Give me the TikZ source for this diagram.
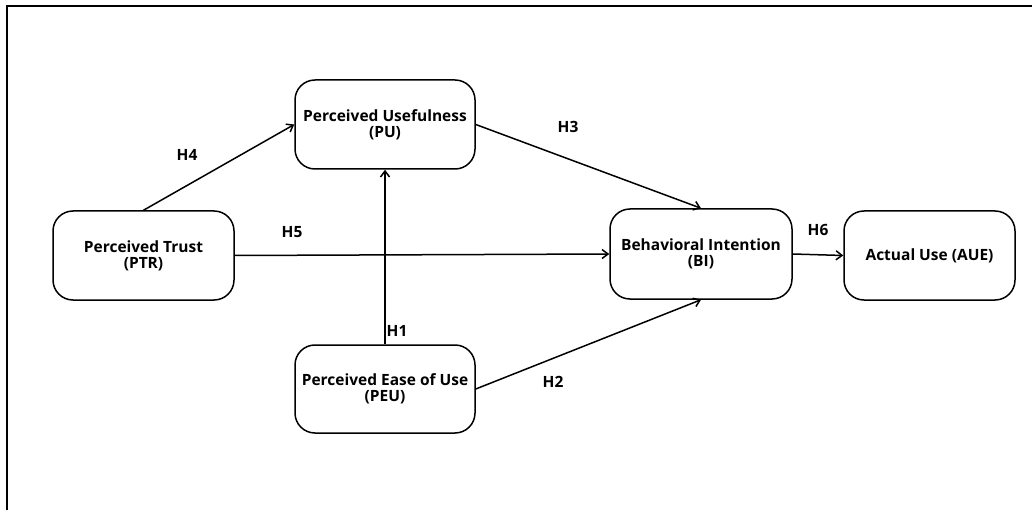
\documentclass[tikz,border=0pt]{standalone}
\usepackage{fontspec}
\setmainfont{Open Sans}
\usetikzlibrary{arrows.meta}
\begin{document}
\begin{tikzpicture}[x=1pt,y=-1pt,
  box/.style={draw=black, line width=1.5pt, rounded corners=20pt, minimum width=180pt, minimum height=89pt, align=center, inner sep=0pt, font=\fontsize{15.5}{16}\selectfont\bfseries},
  conn/.style={line width=1.5pt, -{Straight Barb[length=6pt,width=9pt,line width=1.5pt]}},
  hlab/.style={font=\fontsize{15.5}{16}\selectfont\bfseries, inner sep=0pt}]
\useasboundingbox (0,0) rectangle (1032,510);
\draw[line width=2pt] (7,515) -- (7,6) -- (1040,6);
\node[box] (PU) at (385,124.5) {Perceived Usefulness\\(PU)};
\node[box, minimum width=181pt] (PTR) at (143.5,255.5) {Perceived Trust\\(PTR)};
\node[box, minimum width=182pt, minimum height=90pt] (BI) at (701,254) {Behavioral Intention\\(BI)};
\node[box, minimum width=171pt] (AUE) at (929.5,255.5) {Actual Use (AUE)};
\node[box, minimum height=88pt] (PEU) at (385,389) {Perceived Ease of Use\\(PEU)};
\draw[conn] (PTR.north) -- (PU.west);
\draw[conn] (PU.east) -- (BI.north);
\draw[conn] (PTR.east) -- (BI.west);
\draw[conn] (PEU.north) -- (PU.south);
\draw[conn] (PEU.east) -- (BI.south);
\draw[conn] (BI.east) -- (AUE.west);
\node[hlab] (h4) at (187,155) {H4};
\node[hlab] (h3) at (568,127) {H3};
\node[hlab] (h5) at (292,232) {H5};
\node[hlab] (h1) at (397,331) {H1};
\node[hlab] (h2) at (553,382) {H2};
\node[hlab] (h6) at (818,230) {H6};
\end{tikzpicture}
\end{document}
